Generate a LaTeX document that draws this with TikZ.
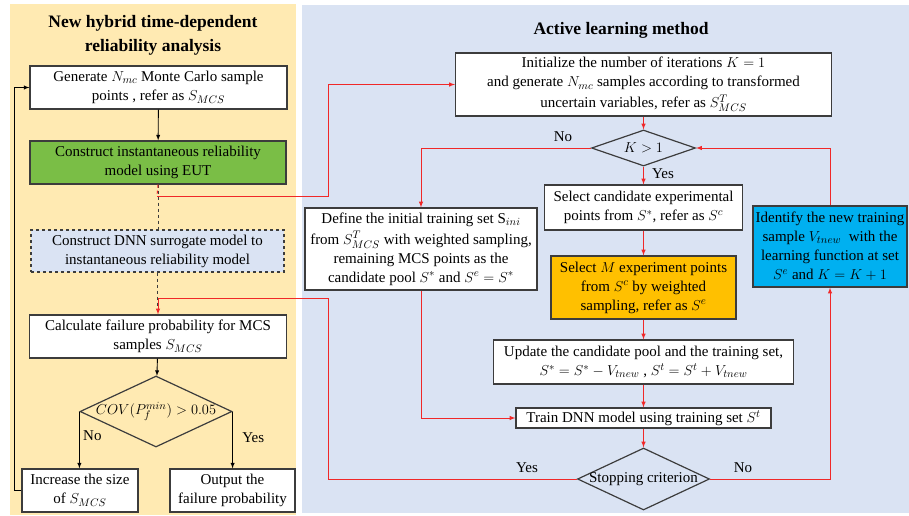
\documentclass[tikz,border=0pt]{standalone}
\usepackage{fontspec}
\setmainfont{Liberation Serif}
\usetikzlibrary{shapes,arrows}

\definecolor{leftbg}{RGB}{255,234,178}
\definecolor{rightbg}{RGB}{218,227,243}
\definecolor{eutgreen}{RGB}{122,190,70}
\definecolor{dnnblue}{RGB}{218,227,243}
\definecolor{selorange}{RGB}{255,192,0}
\definecolor{idnblue}{RGB}{0,176,240}
\definecolor{linered}{RGB}{240,40,40}
\definecolor{edge}{RGB}{60,60,60}

\begin{document}
\begin{tikzpicture}[x=1pt,y=-1pt,
	every node/.style={font=\fontsize{15}{19}\selectfont},
	box/.style={draw=edge, line width=1.2pt, fill=white, align=center, inner sep=2pt},
	dec/.style={draw=edge, line width=1.2pt, shape=diamond, inner sep=0pt},
	ttl/.style={font=\fontsize{17.5}{24}\selectfont\bfseries, align=center},
	blk/.style={-latex, line width=0.9pt, black},
	rline/.style={-latex, line width=1pt, linered},
	dline/.style={dashed, line width=1pt, edge}]
	\useasboundingbox (0,0) rectangle (909,515);
	
	% panels
	\fill[leftbg] (10,4) rectangle (296,515);
	\fill[rightbg] (302,5) rectangle (909,513);
	\node[ttl] (lefttitle) at (153,35) {New hybrid time-dependent\\reliability analysis};
	\node[ttl] (righttitle) at (621,30) {Active learning method};
	
	% left column
	\node[box, minimum width=257pt, minimum height=43pt] (gen) at (158.5,87.5)
	{Generate $N_{mc}$ Monte Carlo sample\\points , refer as $S_{MCS}$};
	\node[box, fill=eutgreen, minimum width=256pt, minimum height=43pt] (eut) at (158,162.5)
	{Construct instantaneous reliability\\model using EUT};
	\node[box, fill=dnnblue, dashed, minimum width=253pt, minimum height=42pt] (dnn) at (157.5,251)
	{Construct DNN surrogate model to\\instantaneous reliability model};
	\node[box, minimum width=257pt, minimum height=43pt] (calc) at (158,336.5)
	{Calculate failure probability for MCS\\samples $S_{MCS}$};
	\node[dec, minimum width=152pt, minimum height=71pt] (cov) at (156,411.5)
	{\makebox[0pt]{$COV(P_f^{min}) > 0.05$}};
	\node[box, minimum width=116pt, minimum height=43pt] (inc) at (80,490.5)
	{Increase the size\\of $S_{MCS}$};
	\node[box, minimum width=125pt, minimum height=43pt] (out) at (232.5,490.5)
	{Output the\\failure probability};
	
	% right column
	\node[box, minimum width=376pt, minimum height=63pt] (init) at (643.5,84.5)
	{Initialize the number of iterations $K = 1$\\and generate $N_{mc}$ samples according to transformed\\[2pt]uncertain variables, refer as $S^T_{MCS}$};
	\node[dec, minimum width=104pt, minimum height=36pt] (kone) at (643.5,148)
	{\makebox[0pt]{$K > 1$}};
	\node[box, minimum width=232pt, minimum height=82pt] (def) at (421,249)
	{Define the initial training set S$_{ini}$\\[2pt]from $S^T_{MCS}$ with weighted sampling,\\remaining MCS points as the\\candidate pool $S^*$ and $S^e = S^*$};
	\node[box, minimum width=198pt, minimum height=45pt] (sel) at (643.5,207.5)
	{Select candidate experimental\\points from $S^*$, refer as $S^c$};
	\node[box, fill=selorange, minimum width=185pt, minimum height=63pt] (ori) at (643.5,287.5)
	{Select $M$ experiment points\\from $S^c$ by weighted\\sampling, refer as $S^e$};
	\node[box, minimum width=300pt, minimum height=44pt] (upd) at (643.5,362)
	{Update the candidate pool and the training set,\\$S^* = S^* - V_{tnew}$ , $S^t = S^t + V_{tnew}$};
	\node[box, minimum width=255pt, minimum height=20pt] (train) at (643.5,418)
	{Train DNN model using training set $S^t$};
	\node[dec, minimum width=132pt, minimum height=62pt] (stop) at (643.5,479)
	{\makebox[0pt]{Stopping criterion}};
	\node[box, fill=idnblue, minimum width=154pt, minimum height=81pt] (idn) at (830,246.5)
	{Identify the new training\\sample $V_{tnew}$ ~with the\\learning function at set\\$S^e$ and $K = K + 1$};
	
	% bend points
	\coordinate (eutout) at (157,196);
	\coordinate (bendA) at (328,196);
	\coordinate (bendB) at (328,298);
	
	% left connectors
	\draw[blk] (gen) -- (eut);
	\draw[dline] (eut.south) -- (eut.south |- dnn.north);
	\draw[dline] (dnn.south) -- (dnn.south |- calc.north);
	\draw[blk] (calc) -- (cov);
	\draw[blk] (cov.west) -- (cov.west |- inc.north) node[midway, right, yshift=4pt] {No};
	\draw[blk] (cov.east) -- (cov.east |- out.north) node[midway, right, xshift=6pt, yshift=2pt] {Yes};
	\draw[blk] (inc.west) -- ++(-7,0) |- (gen.west);
	
	% red connectors
	\draw[linered, line width=1pt, dashed] (eut.south) -- (eutout);
	\draw[rline] (eutout) -- (bendA) |- (init.west);
	\draw[rline] (init) -- (kone);
	\draw[rline] (kone.west) -| (def.north);
	\node (kno) at (563,137) {No};
	\draw[rline] (kone) -- (sel);
	\node (kyes) at (663,174) {Yes};
	\draw[rline] (sel) -- (ori);
	\draw[rline] (ori) -- (upd);
	\draw[rline] (upd) -- (train);
	\draw[rline] (def.south) |- (train.west);
	\draw[rline] (train) -- (stop);
	\draw[rline] (stop.west) -| (bendB) -| (calc.north);
	\node (syes) at (527,468) {Yes};
	\draw[rline] (stop.east) -| (idn.south);
	\node (sno) at (743,468) {No};
	\draw[rline] (idn.north) |- (kone.east);
\end{tikzpicture}
\end{document}
